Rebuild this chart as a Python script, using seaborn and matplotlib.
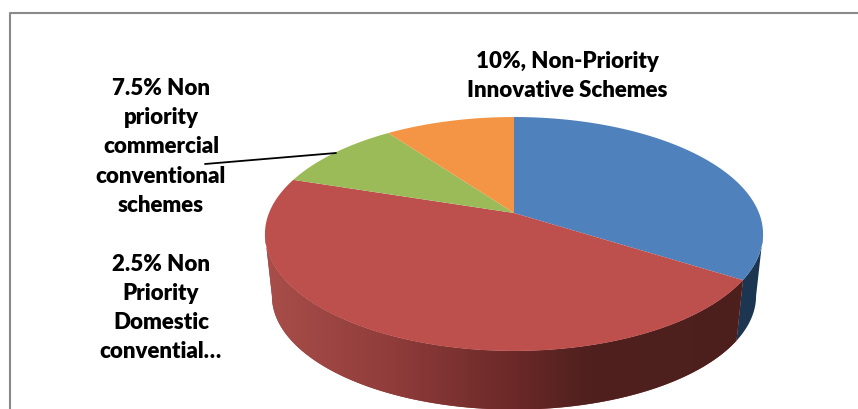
import numpy as np
import seaborn as sns
import matplotlib.pyplot as plt
from matplotlib.colors import LinearSegmentedColormap

# slices clockwise from 12 o'clock
slice_names = ['Unlabelled', 'Domestic', 'Commercial', 'Innovative']
slice_values = [34, 46, 10, 10]
top_colors = ['#4f81bd', '#bd4f4c', '#9bbb59', '#f39545']

label_texts = [
    '10%, Non-Priority\nInnovative Schemes',
    '7.5% Non\npriority\ncommercial\nconventional\nschemes',
    '2.5% Non\nPriority\nDomestic\nconvential…',
]

sns.set_theme(style='white')
plt.rcParams['font.family'] = ['Lato', 'DejaVu Sans']

fig = plt.figure(figsize=(8.58, 4.10), dpi=100)
ax = fig.add_axes([0, 0, 1, 1])
ax.set_xlim(0, 858)
ax.set_ylim(410, 0)
ax.axis('off')

#####################################################################
# Perspective view of the disc, the apex does not sit at the ellipse middle
def project(angle, radius=1.0, scale=1.0, drop=0.0):
    u = radius * np.sin(angle)
    v = radius * np.cos(angle)
    w = 1 + 0.1795 * v
    return 514 + scale * 245 * u / w, 214 + drop - scale * 113.2 * v / w

def arc(start, end):
    return np.linspace(start, end, 200)

edges = np.radians(np.cumsum([0] + slice_values) / sum(slice_values) * 360)
side_scale = 0.972
side_drop = 62.5
# silhouette of the disc, where the wall starts to show
right_limit = np.arccos(-0.1795)
left_limit = 2 * np.pi - right_limit

# side walls first, only the blue and red ones can be seen
blue_angles = arc(right_limit, edges[1])
x1, y1 = project(blue_angles)
x2, y2 = project(blue_angles[::-1], scale=side_scale, drop=side_drop)
ax.fill(np.r_[x1, x2], np.r_[y1, y2], color='#1c3551', lw=0)

red_angles = arc(edges[1], left_limit)
x1, y1 = project(red_angles)
x2, y2 = project(red_angles[::-1], scale=side_scale, drop=side_drop)
wall = ax.fill(np.r_[x1, x2], np.r_[y1, y2], color='#8a3a38', lw=0)[0]

wall_cmap = LinearSegmentedColormap.from_list('wall', [
    (0.0, '#a94e4a'), (0.27, '#8f3c3a'), (0.53, '#692827'),
    (0.68, '#4f201e'), (1.0, '#4c1f1d')])
shade = ax.imshow(np.linspace(0, 1, 256).reshape(1, -1), cmap=wall_cmap,
                  extent=(265, 745, 411, 230), aspect='auto', zorder=2)
shade.set_clip_path(wall)
ax.set_xlim(0, 858)
ax.set_ylim(410, 0)

# top faces
for i in range(len(slice_values)):
    x, y = project(arc(edges[i], edges[i + 1]))
    x0, y0 = project(0.0, radius=0.0)
    ax.fill(np.r_[x0, x], np.r_[y0, y], color=top_colors[i], lw=0, zorder=3)

#####################################################################
# frame of the chart area, runs off the right and bottom of the crop
ax.plot([9.5, 9.5, 858], [410, 13.5, 13.5], color='#8a8a8a', lw=1.5, zorder=1)

# leader line of the green slice
ax.plot([205, 336], [165, 154], color='black', lw=1.3, zorder=5)

label_style = dict(ha='center', va='center', fontsize=16, fontweight='heavy',
                   color='black', linespacing=1.49, zorder=6)
ax.text(567, 76, label_texts[0], **label_style)
ax.text(161, 147, label_texts[1], **label_style)
ax.text(161, 308, label_texts[2], **label_style)

fig.savefig('out.png', dpi=100, facecolor='white')
